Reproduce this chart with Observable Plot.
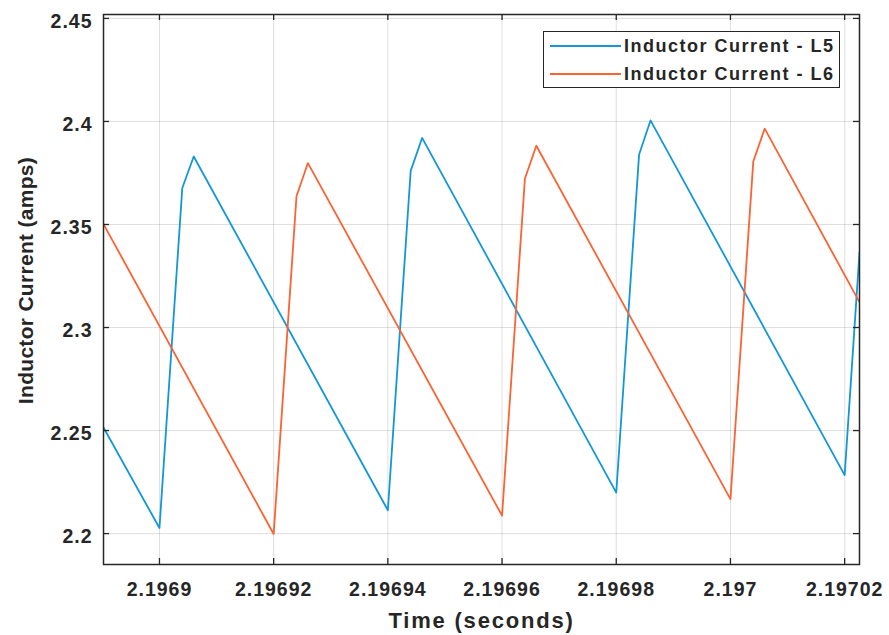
<!DOCTYPE html>
<html>
<head>
<meta charset="utf-8">
<script src="https://cdn.jsdelivr.net/npm/d3@7"></script>
<script src="https://cdn.jsdelivr.net/npm/@observablehq/plot@0.6"></script>
<style>
  body { margin: 0; background: #fff; }
  #wrap { position: relative; width: 889px; height: 635px; font-family: "Liberation Sans", Arial, Helvetica, sans-serif; }
  #wrap svg { position: absolute; left: 0; top: 0; }
  #legend { position: absolute; left: 543px; top: 31px; width: 297px; height: 57px; box-sizing: border-box;
            border: 1px solid #262626; background: #fff; }
  .row { position: absolute; left: 0; height: 24px; width: 100%; }
  .swatch { position: absolute; left: 6px; width: 71px; top: 11px; height: 0; border-top: 2px solid; }
  .lab { position: absolute; left: 80px; top: 0; line-height: 24px; font-size: 18px; font-weight: bold; color: #262626; letter-spacing: 1.5px; white-space: nowrap; }
</style>
</head>
<body>
<div id="wrap"></div>
<script>
// ---- data ----
const timeL5 = [2.1968902, 2.1969, 2.196904, 2.196906, 2.19694, 2.196944, 2.196946, 2.19698, 2.196984, 2.196986, 2.19702, 2.1970226];
const currentL5 = [2.2515, 2.2027, 2.3677, 2.3830, 2.2113, 2.3760, 2.3920, 2.2199, 2.3840, 2.4005, 2.2284, 2.3365];
const timeL6 = [2.1968902, 2.19692, 2.196924, 2.196926, 2.19696, 2.196964, 2.196966, 2.197, 2.197004, 2.197006, 2.1970226];
const currentL6 = [2.3502, 2.1998, 2.3637, 2.3798, 2.2087, 2.3722, 2.3882, 2.2167, 2.3806, 2.3965, 2.3123];

const seriesNames = ["Inductor Current - L5", "Inductor Current - L6"];
const seriesColors = ["#1397d7", "#fb6333"];

const xTicks = [2.1969, 2.19692, 2.19694, 2.19696, 2.19698, 2.197, 2.19702];
const xTickLabels = ["2.1969", "2.19692", "2.19694", "2.19696", "2.19698", "2.197", "2.19702"];
const yTicks = [2.2, 2.25, 2.3, 2.35, 2.4, 2.45];
const yTickLabels = ["2.2", "2.25", "2.3", "2.35", "2.4", "2.45"];

const xDomain = [2.1968902, 2.1970226];
const yDomain = [2.1850, 2.4519];
const xLabel = "Time (seconds)";
const yLabel = "Inductor Current (amps)";

// ---- build table ----
const rows = [];
timeL5.forEach((t, i) => rows.push({series: seriesNames[0], t, v: currentL5[i]}));
timeL6.forEach((t, i) => rows.push({series: seriesNames[1], t, v: currentL6[i]}));

const W = 889, H = 635;
const axisColor = "#262626";

const chart = Plot.plot({
  width: W,
  height: H,
  marginLeft: 103,
  marginRight: 30,
  marginTop: 14,
  marginBottom: 71,
  style: {fontFamily: '"Liberation Sans", Arial, Helvetica, sans-serif', background: "#fff", color: axisColor},
  x: {domain: xDomain, axis: null},
  y: {domain: yDomain, axis: null},
  color: {domain: seriesNames, range: seriesColors},
  marks: [
    Plot.gridX(xTicks, {stroke: axisColor, strokeOpacity: 0.15, strokeWidth: 1}),
    Plot.gridY(yTicks, {stroke: axisColor, strokeOpacity: 0.15, strokeWidth: 1}),
    Plot.line(rows, {x: "t", y: "v", z: "series", stroke: "series", strokeWidth: 1.8, clip: true}),
    // inward ticks on all four sides
    Plot.tickX(xTicks, {x: d => d, insetTop: 544, stroke: axisColor, strokeWidth: 1.3}),
    Plot.tickX(xTicks, {x: d => d, insetBottom: 544, stroke: axisColor, strokeWidth: 1.3}),
    Plot.tickY(yTicks, {y: d => d, insetRight: 750, stroke: axisColor, strokeWidth: 1.3}),
    Plot.tickY(yTicks, {y: d => d, insetLeft: 750, stroke: axisColor, strokeWidth: 1.3}),
    Plot.frame({stroke: axisColor, strokeWidth: 1.5}),
    Plot.text(xTicks, {x: d => d, frameAnchor: "bottom", dy: 25, text: (d, i) => xTickLabels[i],
      fontSize: 19.5, fontWeight: "bold", fill: axisColor, lineAnchor: "middle"}),
    Plot.text(yTicks, {y: d => d, frameAnchor: "left", dx: -11, dy: 3, textAnchor: "end", text: (d, i) => yTickLabels[i],
      fontSize: 19.5, fontWeight: "bold", fill: axisColor, lineAnchor: "middle"}),
    Plot.text([xLabel], {frameAnchor: "bottom", dy: 56, text: d => d, fontSize: 22, fontWeight: "bold",
      fill: axisColor, lineAnchor: "middle", textAnchor: "middle"}),
    Plot.text([yLabel], {frameAnchor: "left", dx: -77, dy: -9, rotate: -90, text: d => d, fontSize: 21, fontWeight: "bold",
      fill: axisColor, lineAnchor: "middle", textAnchor: "middle"})
  ]
});

// letter spacing to mimic the wide MATLAB text rendering
d3.select(chart).selectAll("text").each(function () {
  const t = this.textContent;
  if (xTickLabels.includes(t) || yTickLabels.includes(t)) this.style.letterSpacing = "1px";
  else if (t === xLabel) this.style.letterSpacing = "1.8px";
  else if (t === yLabel) this.style.letterSpacing = "0.3px";
});

const wrap = document.getElementById("wrap");
wrap.appendChild(chart);

// legend
const legend = document.createElement("div");
legend.id = "legend";
const rowCenters = [14, 42];
seriesNames.forEach((name, i) => {
  const r = document.createElement("div");
  r.className = "row";
  r.style.top = (rowCenters[i] - 12) + "px";
  const sw = document.createElement("div");
  sw.className = "swatch";
  sw.style.borderTopColor = seriesColors[i];
  const lab = document.createElement("div");
  lab.className = "lab";
  lab.textContent = name;
  r.appendChild(sw);
  r.appendChild(lab);
  legend.appendChild(r);
});
wrap.appendChild(legend);
</script>
</body>
</html>
